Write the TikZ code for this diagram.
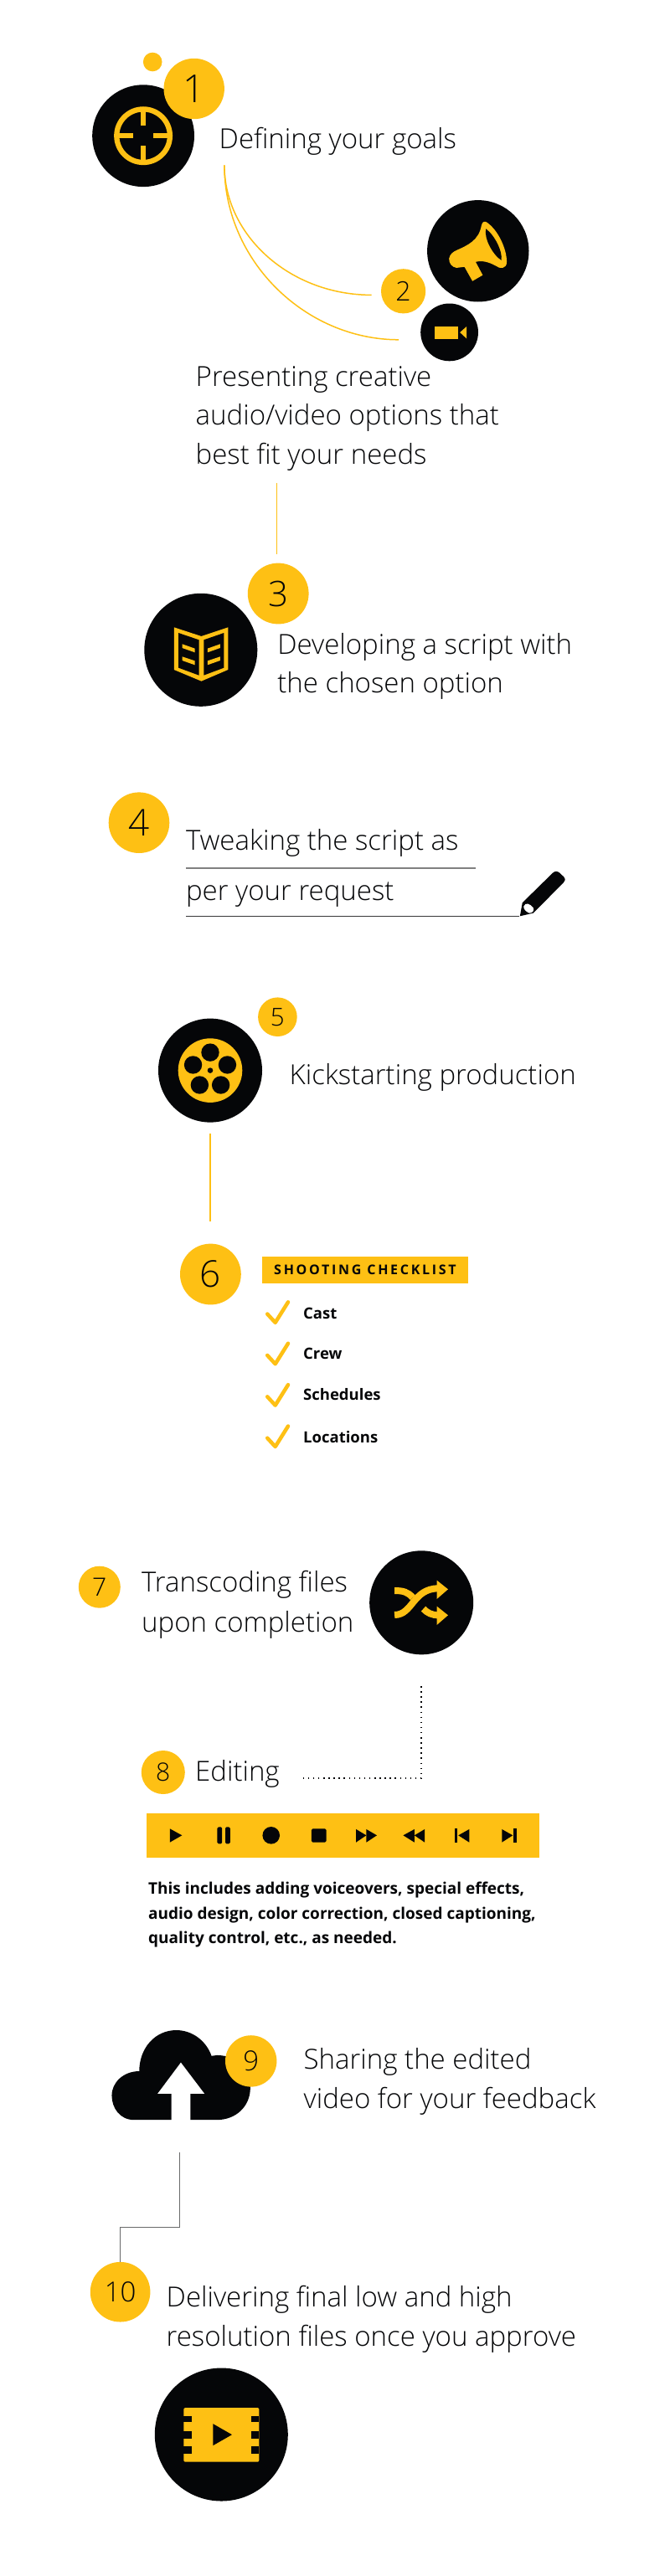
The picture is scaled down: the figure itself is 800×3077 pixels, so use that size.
\documentclass[tikz,border=0pt]{standalone}
\usepackage{fontspec}
\setmainfont{Open Sans}
\newfontfamily\lightf{Open Sans Light}
\newfontfamily\boldf{Open Sans}[UprightFont={* Bold}]
\newfontfamily\spacedf{Open Sans}[UprightFont={* Bold},LetterSpace=17]
\definecolor{gold}{HTML}{FEC014}
\definecolor{ink}{HTML}{050608}
\newcommand{\fs}[2]{\fontsize{#1}{#2}\selectfont}
\tikzset{
  x=1pt,y=-1pt,
  numdot/.style={circle,fill=gold,inner sep=0pt,text=ink,font={\lightf\fs{#1}{#1}}},
  blackdot/.style={circle,fill=ink,inner sep=0pt},
  lighttext/.style={anchor=base west,inner sep=0pt,align=left,text=ink,font={\lightf\fs{33}{#1}}},
  boldtext/.style={anchor=base west,inner sep=0pt,text=ink,font={\boldf\fs{#1}{29.5}},align=left},
  goldline/.style={draw=gold,line width=1.5pt},
  tick/.style={draw=gold,line width=4.5pt,line cap=round,line join=round},
  iconA/.style={shift={(80pt,-40pt)},x=0.3827pt,y=-0.3954pt},
  iconB/.style={shift={(100pt,-650pt)},x=0.4082pt,y=-0.3333pt},
  iconC/.style={shift={(70pt,-1840pt)},x=0.3827pt,y=-0.3333pt},
  iconD/.style={shift={(80pt,-2340pt)},x=0.4209pt,y=-0.4337pt},
}
\begin{document}
\begin{tikzpicture}
\useasboundingbox[fill=white] (0,0) rectangle (800,3077);

% --- step 1
\node[circle,fill=gold,minimum size=22.6pt,inner sep=0pt] (spark) at (182.2,74) {};
\node[blackdot,minimum size=121.8pt] (b1) at (171.1,162.2) {};
\node[numdot=46,minimum size=72.4pt] (n1) at (231.7,106) {1};
\draw[gold,line width=6.3pt] (b1) circle[radius=31.8];
\fill[gold] (168,129) rectangle (174.2,150);
\fill[gold] (168,174.4) rectangle (174.2,195);
\fill[gold] (139,159) rectangle (158.8,165.3);
\fill[gold] (183.4,159) rectangle (203,165.3);
\node[lighttext=46] (t1) at (261.5,177.6) {Defining your goals};

% --- step 2
\coordinate (c0) at (267.9,197.4);
\coordinate (c1) at (443.6,352.4);
\coordinate (c2) at (476,405.8);
\draw[gold,line width=1.5pt] (c0) .. controls (267.9,282) and (347,352.4) .. (c1);
\draw[gold,line width=1.5pt] (c0) .. controls (267.9,312) and (365,405.8) .. (c2);
\node[blackdot,minimum size=121.4pt] (b2) at (570.8,299.8) {};
\node[blackdot,minimum size=68.8pt] (b2v) at (536.6,396.9) {};
\node[numdot=32,minimum size=53.2pt] (n2) at (481.6,347.8) {2};
\begin{scope}[iconA]
  \fill[gold] (1192,680) .. controls (1195,665) and (1205,660) .. (1215,655)
     .. controls (1250,640) and (1285,625) .. (1293,580)
     .. controls (1296,566) and (1305,566) .. (1312,572)
     .. controls (1345,595) and (1372,650) .. (1372,690)
     .. controls (1372,712) and (1350,712) .. (1338,702)
     .. controls (1315,690) and (1295,685) .. (1275,690)
     -- (1297,730) -- (1265,748) -- (1240,705) -- (1215,708)
     .. controls (1200,705) and (1192,695) .. (1192,680) -- cycle;
  \fill[ink] (1307,590) .. controls (1335,610) and (1360,660) .. (1355,685)
     .. controls (1330,670) and (1300,620) .. (1307,590) -- cycle;
  \fill[gold] (1146,884) rectangle (1220,924);
  \fill[gold] (1226,903) -- (1247,885) -- (1247,922) -- cycle;
\end{scope}
\node[lighttext=46.5] (t2) at (233.5,554) {Presenting creative\\audio/video options that\\best fit your needs};

% --- step 3
\coordinate (l2a) at (330.7,576.6);
\node[blackdot,minimum size=135pt] (b3) at (239.8,776.3) {};
\node[numdot=42,minimum size=72.8pt] (n3) at (332.2,709) {3};
\coordinate (l2b) at (330.7,661.7);
\draw[goldline] (l2a) -- (l2b);
\begin{scope}[iconB]
  \fill[gold] (264,298) -- (344,330) -- (422,298) -- (422,450) -- (344,491) -- (264,450) -- cycle;
  \fill[ink] (277,318) -- (337,343) -- (337,470) -- (277,443) -- cycle;
  \fill[ink] (351,343) -- (410,318) -- (410,443) -- (351,470) -- cycle;
  \fill[gold] (288,358) -- (325,374) -- (325,388) -- (288,372) -- cycle;
  \fill[gold] (288,403) -- (325,418) -- (325,433) -- (288,417) -- cycle;
  \fill[gold] (362,374) -- (399,358) -- (399,372) -- (362,388) -- cycle;
  \fill[gold] (362,418) -- (399,403) -- (399,417) -- (362,433) -- cycle;
\end{scope}
\node[lighttext=46] (t3) at (331.2,827.7) {Developing a script with\\the chosen option};

% --- step 4
\node[numdot=44,minimum size=72.6pt] (n4) at (166,982.7) {4};
\node[lighttext=46] (t4a) at (221.8,1015) {Tweaking the script as};
\node[lighttext=46] (t4b) at (221.8,1075.7) {per your request};
\coordinate (r1a) at (222.4,1037);
\coordinate (r1b) at (568,1037);
\coordinate (r2a) at (222.4,1094.3);
\coordinate (r2b) at (620.4,1094.3);
\draw[draw=gray,line width=1.5pt] (r1a) -- (r1b);
\draw[draw=ink!80,line width=0.9pt] (r2a) -- (r2b);
\begin{scope}[iconB]
  \fill[ink] (1276,1333) -- (1283,1285) -- (1372,1178)
     .. controls (1380,1170) and (1385,1172) .. (1392,1178)
     -- (1404,1192) .. controls (1410,1200) and (1408,1207) .. (1404,1212)
     -- (1315,1322) -- cycle;
  \fill[white] (1287,1298) .. controls (1292,1282) and (1305,1288) .. (1315,1303)
     .. controls (1318,1315) and (1312,1322) .. (1303,1322) .. controls (1295,1318) and (1285,1308) .. (1287,1298) -- cycle;
\end{scope}

% --- step 5
\node[blackdot,minimum size=124pt] (b5) at (251,1278.6) {};
\node[numdot=29.5,minimum size=46.6pt] (n5) at (331.4,1214.7) {5};
\fill[gold] (b5) circle[radius=38.3];
\foreach \a in {90,162,234,306,18} \fill[ink] (b5) ++(\a:21.5 and -21.5) circle[radius=10.7];
\fill[ink] (b5) circle[radius=3.3];
\node[lighttext=46] (t5) at (345.5,1295) {Kickstarting production};

% --- step 6
\coordinate (l5a) at (251,1354);
\coordinate (l5b) at (251,1459.3);
\draw[goldline] (l5a) -- (l5b);
\node[numdot=44,minimum size=72.8pt] (n6) at (251.4,1522) {6};
\node[fill=gold,minimum width=245.3pt,minimum height=32.5pt,inner sep=0pt,text=ink,font={\spacedf\fs{16}{16}}] (banner) at (436,1516.9) {SHOOTING CHECKLIST};
\foreach \i/\nm/\by in {0/Cast/1575.2,1/Crew/1623.8,2/Schedules/1672.8,3/Locations/1723}{
  \draw[tick] (319.2,1569.5+49.4*\i) -- (328.7,1579.8+49.4*\i) -- (344,1555.3+49.4*\i);
  \node[boldtext=18.5] (chk\i) at (362,\by) {\nm};
}

% --- step 7
\node[numdot=30,minimum size=50pt] (n7) at (118.8,1895.7) {7};
\node[lighttext=48] (t7) at (169,1949) {Transcoding files\\upon completion};
\node[blackdot,minimum size=124pt] (b7) at (503.2,1914.3) {};
\begin{scope}[iconC]
  \draw[gold,line width=8pt] (1048,267) .. controls (1105,267) and (1105,172) .. (1185,172);
  \draw[gold,line width=8pt] (1048,180) .. controls (1075,180) and (1090,185) .. (1105,205);
  \draw[gold,line width=8pt] (1138,245) .. controls (1150,260) and (1165,268) .. (1185,268);
  \fill[gold] (1180,143) -- (1215,175) -- (1180,210) -- cycle;
  \fill[gold] (1180,236) -- (1215,268) -- (1180,303) -- cycle;
\end{scope}

% --- step 8
\coordinate (d1) at (503.2,2014);
\coordinate (d2) at (503.2,2124);
\coordinate (d3) at (360.9,2124);
\draw[ink,line width=1.5pt,dash pattern=on 1.5pt off 4.6pt] (d1) -- (d2) -- (d3);
\node[numdot=30,minimum size=52pt] (n8) at (194.8,2117) {8};
\node[lighttext=46] (t8) at (233,2127.7) {Editing};
\node[fill=gold,minimum width=469.1pt,minimum height=53.3pt,inner sep=0pt] (bar) at (409.45,2192.35) {};
\begin{scope}[iconC]
  \fill[ink] (347,1033) -- (385,1057) -- (347,1082) -- cycle;
  \fill[ink,rounded corners=1.5pt] (495,1027) rectangle (510,1087);
  \fill[ink,rounded corners=1.5pt] (520,1027) rectangle (535,1087);
  \fill[ink] (663,1057) circle[radius=10.3pt];
  \fill[ink,rounded corners=1.5pt] (789,1033) rectangle (835,1082);
  \fill[ink] (928,1035) -- (960,1057) -- (928,1082) -- cycle;
  \fill[ink] (960,1035) -- (993,1057) -- (960,1082) -- cycle;
  \fill[ink] (1142,1035) -- (1110,1057) -- (1142,1082) -- cycle;
  \fill[ink] (1110,1035) -- (1075,1057) -- (1110,1082) -- cycle;
  \fill[ink] (1235,1033) rectangle (1245,1082);
  \fill[ink] (1281,1035) -- (1247,1057) -- (1281,1082) -- cycle;
  \fill[ink] (1383,1035) -- (1417,1057) -- (1383,1082) -- cycle;
  \fill[ink] (1419,1033) rectangle (1429,1082);
\end{scope}
\node[boldtext=19] (t8b) at (177,2321.7) {This includes adding voiceovers, special effects,\\audio design, color correction, closed captioning,\\quality control, etc., as needed.};

% --- step 9
\begin{scope}[iconD]
  \fill[ink] (205,443) -- (190,443) .. controls (150,443) and (127,410) .. (127,376)
    .. controls (127,340) and (160,309) .. (205,309)
    .. controls (205,245) and (250,196) .. (310,196)
    .. controls (355,196) and (395,225) .. (410,267)
    -- (425,265) .. controls (480,265) and (520,300) .. (520,355)
    .. controls (520,405) and (480,443) .. (425,443) -- cycle;
  \fill[white] (323,285) -- (257,371) -- (296,371) -- (296,445) -- (350,445) -- (350,371) -- (390,371) -- cycle;
\end{scope}
\node[numdot=33,minimum size=61.4pt] (n9) at (299.7,2461.9) {9};
\node[lighttext=47.7] (t9) at (362.5,2518.7) {Sharing the edited\\video for your feedback};

% --- step 10
\node[numdot=33,minimum size=71.6pt] (n10) at (143.6,2737.7) {10};
\coordinate (g1) at (214.7,2570.7);
\coordinate (g2) at (214.7,2660.9);
\coordinate (g3) at (143.6,2660.9);
\draw[draw=ink!60,line width=1pt] (g1) -- (g2) -- (g3) -- (n10.north);
\node[lighttext=47.3] (t10) at (198.5,2802.7) {Delivering final low and high\\resolution files once you approve};
\node[blackdot,minimum size=159pt] (b10) at (264.3,2908) {};
\begin{scope}[iconD]
  \fill[gold,rounded corners=2pt] (331,1236) rectangle (545,1385);
  \foreach \ya/\yb in {1258/1276,1300/1320,1343/1362}{
    \fill[ink] (331,\ya) rectangle (353,\yb);
    \fill[ink] (523,\ya) rectangle (545,\yb);
  }
  \fill[ink] (414,1280) -- (468,1310) -- (414,1340) -- cycle;
\end{scope}
\end{tikzpicture}
\end{document}
